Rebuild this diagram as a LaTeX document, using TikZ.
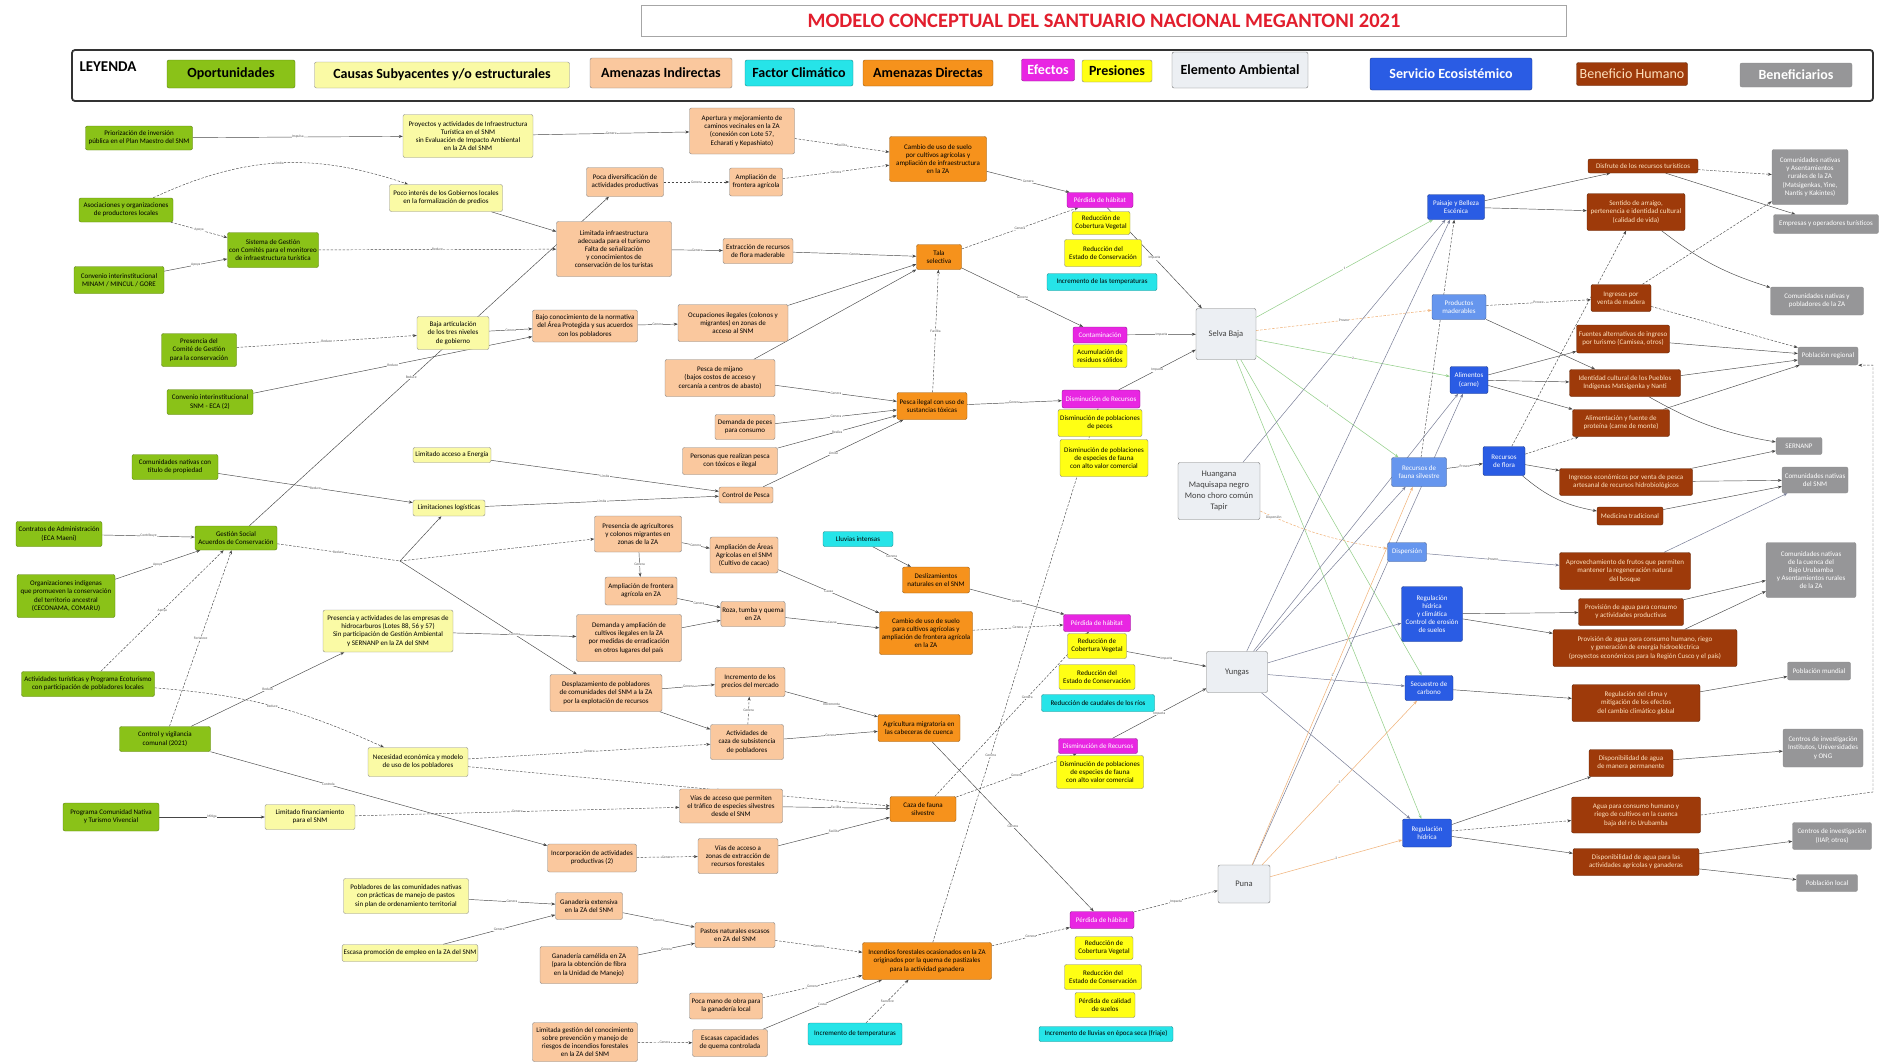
\documentclass[tikz,border=0pt]{standalone}
\usepackage{fontspec}
\setmainfont{Carlito}
\usetikzlibrary{arrows.meta}
\pgfdeclarelayer{background}
\pgfsetlayers{background,main}

\definecolor{opgreen}{RGB}{138,194,24}
\definecolor{causeyel}{RGB}{250,250,165}
\definecolor{indpeach}{RGB}{250,200,158}
\definecolor{climcyan}{RGB}{38,228,232}
\definecolor{dirorange}{RGB}{246,146,28}
\definecolor{effmag}{RGB}{232,38,226}
\definecolor{presyel}{RGB}{255,255,20}
\definecolor{envgray}{RGB}{236,239,243}
\definecolor{servblue}{RGB}{42,92,228}
\definecolor{servlight}{RGB}{102,150,238}
\definecolor{humbrown}{RGB}{158,58,10}
\definecolor{humtext}{RGB}{255,226,190}
\definecolor{benfgray}{RGB}{150,150,152}
\definecolor{titlered}{RGB}{226,30,45}
\definecolor{linegray}{RGB}{70,70,70}
\definecolor{linkgreen}{RGB}{150,208,140}
\definecolor{linkorange}{RGB}{240,180,125}
\definecolor{linkslate}{RGB}{120,125,150}

\begin{document}
\begin{tikzpicture}[x=1pt,y=-1pt,>={Stealth[length=4pt,width=3pt]},
    base node/.style={draw,rounded corners=2pt,align=center,inner sep=1.5pt,font=\fontsize{7}{8.2}\selectfont},
    op node/.style={base node,fill=opgreen,draw=opgreen!65!black},
    cause node/.style={base node,fill=causeyel,draw=black!45},
    ind node/.style={base node,fill=indpeach,draw=black!50},
    clim node/.style={base node,fill=climcyan,draw=climcyan!60!black},
    dir node/.style={base node,fill=dirorange,draw=dirorange!60!black},
    eff node/.style={base node,fill=effmag,draw=effmag!60!black,text=white},
    pres node/.style={base node,fill=presyel,draw=black!50},
    env node/.style={base node,fill=envgray,draw=black!55,text=black!75,font=\fontsize{8.5}{11}\selectfont},
    serv node/.style={base node,fill=servblue,draw=servblue!60!black,text=white},
    serv light/.style={base node,fill=servlight,draw=servlight!60!black,text=white},
    hum node/.style={base node,fill=humbrown,draw=humbrown!60!black,text=humtext},
    benf node/.style={base node,fill=benfgray,draw=black!45,text=white},
    leg node/.style={draw,rounded corners=2pt,font=\fontsize{14}{16}\selectfont\bfseries,inner sep=1pt},
    con/.style={->,line width=0.45pt,color=linegray},
    dcon/.style={con,dash pattern=on 2.5pt off 1.5pt},
    gcon/.style={->,line width=0.55pt,color=linkgreen},
    ocon/.style={->,line width=0.55pt,color=linkorange},
    scon/.style={->,line width=0.5pt,color=linkslate},
    lbl/.style={font=\fontsize{3.6}{4}\selectfont,text=black!65,fill=white,inner sep=0.4pt}]

  \useasboundingbox (0,0) rectangle (1879,1063);

  % titulo y leyenda
  \node[draw=black!35,fill=white,minimum width=925,minimum height=31,
        font=\fontsize{20.5}{24}\selectfont\bfseries,text=titlered] (title) at (1104,21)
        {MODELO CONCEPTUAL DEL SANTUARIO NACIONAL MEGANTONI 2021};
  \node[draw=black!80,line width=1.8pt,rounded corners=3pt,minimum width=1801,minimum height=51] (leyframe) at (972.5,75.5) {};
  \node[anchor=west,font=\fontsize{15}{17}\selectfont\bfseries] (ley) at (76,67) {LEYENDA};
  \node[leg node,fill=opgreen,draw=opgreen!65!black,minimum width=128,minimum height=28] (lop) at (231,74) {Oportunidades};
  \node[leg node,fill=causeyel,draw=black!45,minimum width=255,minimum height=26] (lcau) at (442,75) {Causas Subyacentes y/o estructurales};
  \node[leg node,fill=indpeach,draw=black!50,minimum width=142,minimum height=30] (lind) at (661,73) {Amenazas Indirectas};
  \node[leg node,fill=climcyan,draw=climcyan!60!black,minimum width=108,minimum height=26] (lcli) at (799,73) {Factor Climático};
  \node[leg node,fill=dirorange,draw=dirorange!60!black,minimum width=130,minimum height=26] (ldir) at (928,73) {Amenazas Directas};
  \node[leg node,fill=effmag,draw=effmag!60!black,text=white,minimum width=53,minimum height=22] (leff) at (1048,70) {Efectos};
  \node[leg node,fill=presyel,draw=black!50,minimum width=70,minimum height=22] (lpre) at (1117,71) {Presiones};
  \node[leg node,fill=envgray,draw=black!55,minimum width=136,minimum height=36] (lenv) at (1240,70) {Elemento Ambiental};
  \node[leg node,fill=servblue,draw=servblue!60!black,text=white,minimum width=162,minimum height=32] (lser) at (1451,74) {Servicio Ecosistémico};
  \node[leg node,fill=humbrown,draw=humbrown!60!black,text=humtext,font=\fontsize{14}{16}\selectfont,minimum width=111,minimum height=23] (lben) at (1632,74) {Beneficio Humano};
  \node[leg node,fill=benfgray,draw=black!45,text=white,minimum width=112,minimum height=24] (lbef) at (1796,75) {Beneficiarios};

  % oportunidades
  \node[op node,minimum width=107,minimum height=24] (g1) at (139,138) {Priorización de inversión\\ pública en el Plan Maestro del SNM};
  \node[op node,minimum width=94,minimum height=24] (g2) at (126,210) {Asociaciones y organizaciones\\ de productores locales};
  \node[op node,minimum width=91,minimum height=35] (g3) at (273,250) {Sistema de Gestión\\ con Comités para el monitoreo\\ de infraestructura turística};
  \node[op node,minimum width=90,minimum height=27] (g4) at (119,280) {Convenio interinstitucional\\ MINAM / MINCUL / GORE};
  \node[op node,minimum width=75,minimum height=33] (g5) at (199,350) {Presencia del\\ Comité de Gestión\\ para la conservación};
  \node[op node,minimum width=86,minimum height=25] (g6) at (210,402) {Convenio interinstitucional\\ SNM - ECA (2)};
  \node[op node,minimum width=86,minimum height=25] (g7) at (175,467) {Comunidades nativas con\\ título de propiedad};
  \node[op node,minimum width=86,minimum height=25] (g8) at (59,534) {Contratos de Administración\\ (ECA Maeni)};
  \node[op node,minimum width=82,minimum height=24] (g9) at (236,538) {Gestión Social\\ Acuerdos de Conservación};
  \node[op node,minimum width=98,minimum height=43] (g10) at (66,596) {Organizaciones indígenas\\ que promueven la conservación\\ del territorio ancestral\\ (CECONAMA, COMARU)};
  \node[op node,minimum width=133,minimum height=25] (g11) at (88,684) {Actividades turísticas y Programa Ecoturismo\\ con participación de pobladores locales};
  \node[op node,minimum width=91,minimum height=25] (g12) at (165,739) {Control y vigilancia\\ comunal (2021)};
  \node[op node,minimum width=96,minimum height=28] (g13) at (111,817) {Programa Comunidad Nativa\\ y Turismo Vivencial};

  % causas subyacentes
  \node[cause node,minimum width=130,minimum height=43] (y1) at (468,136) {Proyectos y actividades de Infraestructura\\ Turística en el SNM\\ sin Evaluación de Impacto Ambiental\\ en la ZA del SNM};
  \node[cause node,minimum width=113,minimum height=27] (y2) at (446,198) {Poco interés de los Gobiernos locales\\ en la formalización de predios};
  \node[cause node,minimum width=72,minimum height=33] (y3) at (453,333) {Baja articulación\\ de los tres niveles\\ de gobierno};
  \node[cause node,minimum width=78,minimum height=15] (y4) at (452,455) {Limitado acceso a Energía};
  \node[cause node,minimum width=72,minimum height=16] (y5) at (449,508) {Limitaciones logísticas};
  \node[cause node,minimum width=130,minimum height=42] (y6) at (388,631) {Presencia y actividades de las empresas de\\ hidrocarburos (Lotes 88, 56 y 57)\\ Sin participación de Gestión Ambiental\\ y SERNANP en la ZA del SNM};
  \node[cause node,minimum width=100,minimum height=29] (y7) at (418,762) {Necesidad económica y modelo\\ de uso de los pobladores};
  \node[cause node,minimum width=90,minimum height=25] (y8) at (310,817) {Limitado financiamiento\\ para el SNM};
  \node[cause node,minimum width=125,minimum height=35] (y9) at (406,896) {Pobladores de las comunidades nativas\\ con prácticas de manejo de pastos\\ sin plan de ordenamiento territorial};
  \node[cause node,minimum width=134,minimum height=17] (y10) at (410,953) {Escasa promoción de empleo en la ZA del SNM};

  % amenazas indirectas
  \node[ind node,minimum width=105,minimum height=46] (a1) at (742,131) {Apertura y mejoramiento de\\ caminos vecinales en la ZA\\ (conexión con Lote 57,\\ Echarati y Kepashiato)};
  \node[ind node,minimum width=77,minimum height=29] (a2) at (625,182) {Poca diversificación de\\ actividades productivas};
  \node[ind node,minimum width=53,minimum height=28] (a3) at (756,182) {Ampliación de\\ frontera agrícola};
  \node[ind node,minimum width=115,minimum height=55] (a4) at (614,249) {Limitada infraestructura\\ adecuada para el turismo\\ Falta de señalización\\ y conocimientos de\\ conservación de los turistas};
  \node[ind node,minimum width=70,minimum height=25] (a5) at (758,251) {Extracción de recursos\\ de flora maderable};
  \node[ind node,minimum width=105,minimum height=32] (a6) at (585,326) {Bajo conocimiento de la normativa\\ del Área Protegida y sus acuerdos\\ con los pobladores};
  \node[ind node,minimum width=110,minimum height=37] (a7) at (733,323) {Ocupaciones ilegales (colonos y\\ migrantes) en zonas de\\ acceso al SNM};
  \node[ind node,minimum width=110,minimum height=37] (a8) at (720,378) {Pesca de mijano\\ (bajos costos de acceso y\\ cercanía a centros de abasto)};
  \node[ind node,minimum width=60,minimum height=25] (a9) at (745,427) {Demanda de peces\\ para consumo};
  \node[ind node,minimum width=95,minimum height=27] (a10) at (730,461) {Personas que realizan pesca\\ con tóxicos e ilegal};
  \node[ind node,minimum width=54,minimum height=16] (a11) at (746,495) {Control de Pesca};
  \node[ind node,minimum width=87,minimum height=36] (a12) at (638,534) {Presencia de agricultores\\ y colonos migrantes en\\ zonas de la ZA};
  \node[ind node,minimum width=68,minimum height=36] (a13) at (744,555) {Ampliación de Áreas\\ Agrícolas en el SNM\\ (Cultivo de cacao)};
  \node[ind node,minimum width=72,minimum height=28] (a14) at (641,591) {Ampliación de frontera\\ agrícola en ZA};
  \node[ind node,minimum width=60,minimum height=25] (a15) at (753,614) {Roza, tumba y quema\\ en ZA};
  \node[ind node,minimum width=105,minimum height=47] (a16) at (629,638) {Demanda y ampliación de\\ cultivos ilegales en la ZA\\ por medidas de erradicación\\ en otros lugares del país};
  \node[ind node,minimum width=112,minimum height=37] (a17) at (606,693) {Desplazamiento de pobladores\\ de comunidades del SNM a la ZA\\ por la explotación de recursos};
  \node[ind node,minimum width=70,minimum height=29] (a18) at (750,682) {Incremento de los\\ precios del mercado};
  \node[ind node,minimum width=73,minimum height=35] (a19) at (747,742) {Actividades de\\ caza de subsistencia\\ de pobladores};
  \node[ind node,minimum width=103,minimum height=34] (a20) at (731,806) {Vías de acceso que permiten\\ el tráfico de especies silvestres\\ desde el SNM};
  \node[ind node,minimum width=89,minimum height=28] (a21) at (592,858) {Incorporación de actividades\\ productivas (2)};
  \node[ind node,minimum width=80,minimum height=35] (a22) at (738,856) {Vías de acceso a\\ zonas de extracción de\\ recursos forestales};
  \node[ind node,minimum width=67,minimum height=27] (a23) at (589,906) {Ganadería extensiva\\ en la ZA del SNM};
  \node[ind node,minimum width=80,minimum height=25] (a24) at (735,935) {Pastos naturales escasos\\ en ZA del SNM};
  \node[ind node,minimum width=98,minimum height=37] (a25) at (589,965) {Ganadería camélida en ZA\\ (para la obtención de fibra\\ en la Unidad de Manejo)};
  \node[ind node,minimum width=73,minimum height=26] (a26) at (726,1006) {Poca mano de obra para\\ la ganadería local};
  \node[ind node,minimum width=105,minimum height=39] (a27) at (585,1042) {Limitada gestión del conocimiento\\ sobre prevención y manejo de\\ riesgos de incendios forestales\\ en la ZA del SNM};
  \node[ind node,minimum width=75,minimum height=27] (a28) at (730,1043) {Escasas capacidades\\ de quema controlada};

  % amenazas directas
  \node[dir node,minimum width=97,minimum height=45] (d1) at (938,159) {Cambio de uso de suelo\\ por cultivos agrícolas y\\ ampliación de infraestructura\\ en la ZA};
  \node[dir node,minimum width=45,minimum height=25] (d2) at (939,257) {Tala\\ selectiva};
  \node[dir node,minimum width=70,minimum height=27] (d3) at (932,406) {Pesca ilegal con uso de\\ sustancias tóxicas};
  \node[dir node,minimum width=67,minimum height=26] (d4) at (936,580) {Deslizamientos\\ naturales en el SNM};
  \node[dir node,minimum width=93,minimum height=43] (d5) at (926,633) {Cambio de uso de suelo\\ para cultivos agrícolas y\\ ampliación de frontera agrícola\\ en la ZA};
  \node[dir node,minimum width=82,minimum height=27] (d6) at (919,728) {Agricultura migratoria en\\ las cabeceras de cuenca};
  \node[dir node,minimum width=66,minimum height=25] (d7) at (923,809) {Caza de fauna\\ silvestre};
  \node[dir node,minimum width=129,minimum height=37] (d8) at (927,961) {Incendios forestales ocasionados en la ZA\\ originados por la quema de pastizales\\ para la actividad ganadera};

  % factores climaticos
  \node[clim node,minimum width=70,minimum height=15] (c2) at (858,539) {Lluvias intensas};
  \node[clim node,minimum width=94,minimum height=22] (c3) at (855,1034) {Incremento de temperaturas};

  % efectos y presiones
  \node[eff node,minimum width=66,minimum height=15] (e1) at (1100,200) {Pérdida de hábitat};
  \node[pres node,minimum width=58,minimum height=23] (p1a) at (1101,223) {Reducción de\\ Cobertura Vegetal};
  \node[pres node,minimum width=77,minimum height=27] (p1b) at (1103,253) {Reducción del\\ Estado de Conservación};
  \node[clim node,minimum width=110,minimum height=17] (c1) at (1102,282) {Incremento de las temperaturas};
  \node[eff node,minimum width=54,minimum height=16] (e2) at (1100,335) {Contaminación};
  \node[pres node,minimum width=54,minimum height=23] (p2a) at (1100,356) {Acumulación de\\ residuos sólidos};
  \node[eff node,minimum width=78,minimum height=18] (e3) at (1101,399) {Disminución de Recursos};
  \node[pres node,minimum width=84,minimum height=27] (p3a) at (1100,423) {Disminución de poblaciones\\ de peces};
  \node[pres node,minimum width=88,minimum height=37] (p3b) at (1104,458) {Disminución de poblaciones\\ de especies de fauna\\ con alto valor comercial};
  \node[eff node,minimum width=67,minimum height=17] (e4) at (1097,623) {Pérdida de hábitat};
  \node[pres node,minimum width=59,minimum height=25] (p4a) at (1097,646) {Reducción de\\ Cobertura Vegetal};
  \node[pres node,minimum width=76,minimum height=25] (p4b) at (1097,677) {Reducción del\\ Estado de Conservación};
  \node[clim node,minimum width=113,minimum height=17] (c4) at (1098,703) {Reducción de caudales de los ríos};
  \node[eff node,minimum width=79,minimum height=15] (e5) at (1098,746) {Disminución de Recursos};
  \node[pres node,minimum width=87,minimum height=33] (p5a) at (1100,772) {Disminución de poblaciones\\ de especies de fauna\\ con alto valor comercial};
  \node[eff node,minimum width=64,minimum height=17] (e6) at (1102,920) {Pérdida de hábitat};
  \node[pres node,minimum width=58,minimum height=23] (p6a) at (1104,948) {Reducción de\\ Cobertura Vegetal};
  \node[pres node,minimum width=77,minimum height=25] (p6b) at (1103,977) {Reducción del\\ Estado de Conservación};
  \node[pres node,minimum width=60,minimum height=25] (p6c) at (1105,1005) {Pérdida de calidad\\ de suelos};
  \node[clim node,minimum width=134,minimum height=15] (c6) at (1106,1034) {Incremento de lluvias en época seca (friaje)};

  % elementos ambientales
  \node[env node,minimum width=60,minimum height=51] (m1) at (1226,334) {Selva Baja};
  \node[env node,minimum width=82,minimum height=57] (m2) at (1219,491) {Huangana\\ Maquisapa negro\\ Mono choro común\\ Tapir};
  \node[env node,minimum width=61,minimum height=41] (m3) at (1237,672) {Yungas};
  \node[env node,minimum width=52,minimum height=38] (m4) at (1244,884) {Puna};

  % servicios ecosistemicos
  \node[serv node,minimum width=57,minimum height=25] (s1) at (1456,207) {Paisaje y Belleza\\ Escénica};
  \node[serv light,minimum width=54,minimum height=25] (s2) at (1459,307) {Productos\\ maderables};
  \node[serv node,minimum width=38,minimum height=27] (s3) at (1469,380) {Alimentos\\ (carne)};
  \node[serv light,minimum width=55,minimum height=29] (s4) at (1419,472) {Recursos de\\ fauna silvestre};
  \node[serv node,minimum width=42,minimum height=29] (s5) at (1504,461) {Recursos\\ de flora};
  \node[serv light,minimum width=39,minimum height=19] (s6) at (1407,552) {Dispersión};
  \node[serv node,minimum width=61,minimum height=55] (s7) at (1432,614) {Regulación\\ hídrica\\ y climática\\ Control de erosión\\ de suelos};
  \node[serv node,minimum width=48,minimum height=25] (s8) at (1429,688) {Secuestro de\\ carbono};
  \node[serv node,minimum width=49,minimum height=28] (s9) at (1427,833) {Regulación\\ hídrica};

  % beneficios humanos
  \node[hum node,minimum width=110,minimum height=14] (b1) at (1643,166) {Disfrute de los recursos turísticos};
  \node[hum node,minimum width=98,minimum height=37] (b2) at (1636,212) {Sentido de arraigo,\\ pertenencia e identidad cultural\\ (calidad de vida)};
  \node[hum node,minimum width=60,minimum height=27] (b3) at (1621,298) {Ingresos por\\ venta de madera};
  \node[hum node,minimum width=93,minimum height=28] (b4) at (1623,339) {Fuentes alternativas de ingreso\\ por turismo (Camisea, otros)};
  \node[hum node,minimum width=111,minimum height=27] (b5) at (1625,383) {Identidad cultural de los Pueblos\\ Indígenas Matsigenka y Nanti};
  \node[hum node,minimum width=97,minimum height=27] (b6) at (1621,423) {Alimentación y fuente de\\ proteína (carne de monte)};
  \node[hum node,minimum width=133,minimum height=27] (b7) at (1626,482) {Ingresos económicos por venta de pesca\\ artesanal de recursos hidrobiológicos};
  \node[hum node,minimum width=66,minimum height=18] (b8) at (1630,516) {Medicina tradicional};
  \node[hum node,minimum width=131,minimum height=37] (b9) at (1625,571) {Aprovechamiento de frutos que permiten\\ mantener la regeneración natural\\ del bosque};
  \node[hum node,minimum width=105,minimum height=27] (b10) at (1631,612) {Provisión de agua para consumo\\ y actividades productivas};
  \node[hum node,minimum width=184,minimum height=37] (b11) at (1645,648) {Provisión de agua para consumo humano, riego\\ y generación de energía hidroeléctrica\\ (proyectos económicos para la Región Cusco y el país)};
  \node[hum node,minimum width=128,minimum height=37] (b12) at (1636,703) {Regulación del clima y\\ mitigación de los efectos\\ del cambio climático global};
  \node[hum node,minimum width=84,minimum height=27] (b13) at (1631,763) {Disponibilidad de agua\\ de manera permanente};
  \node[hum node,minimum width=129,minimum height=36] (b14) at (1636,815) {Agua para consumo humano y\\ riego de cultivos en la cuenca\\ baja del río Urubamba};
  \node[hum node,minimum width=126,minimum height=27] (b15) at (1636,862) {Disponibilidad de agua para las\\ actividades agrícolas y ganaderas};

  % beneficiarios
  \node[benf node,minimum width=76,minimum height=55] (r1) at (1810,177) {Comunidades nativas\\ y Asentamientos\\ rurales de la ZA\\ (Matsigenkas, Yine,\\ Nantis y Kakintes)};
  \node[benf node,minimum width=105,minimum height=19] (r2) at (1826,224) {Empresas y operadores turísticos};
  \node[benf node,minimum width=93,minimum height=28] (r3) at (1817,301) {Comunidades nativas y\\ pobladores de la ZA};
  \node[benf node,minimum width=60,minimum height=18] (r4) at (1828,356) {Población regional};
  \node[benf node,minimum width=46,minimum height=17] (r5) at (1799,446) {SERNANP};
  \node[benf node,minimum width=66,minimum height=26] (r6) at (1815,480) {Comunidades nativas\\ del SNM};
  \node[benf node,minimum width=90,minimum height=55] (r7) at (1811,570) {Comunidades nativas\\ de la cuenca del\\ Bajo Urubamba\\ y Asentamientos rurales\\ de la ZA};
  \node[benf node,minimum width=63,minimum height=18] (r8) at (1819,671) {Población mundial};
  \node[benf node,minimum width=80,minimum height=38] (r9) at (1823,748) {Centros de investigación\\ Institutos, Universidades\\ y ONG};
  \node[benf node,minimum width=79,minimum height=27] (r10) at (1832,836) {Centros de investigación\\ (IIAP, otros)};
  \node[benf node,minimum width=61,minimum height=17] (r11) at (1827,883) {Población local};

  \coordinate (gs) at (400,561);
  \coordinate (rbend) at (1873,792);

  \begin{pgfonlayer}{background}
    % oportunidades y causas
    \path[con] (g1) edge node[lbl] {Impulsa} (y1);
    \path[dcon] (g2) edge[bend left=22] node[lbl] {Limita} (y2);
    \path[dcon] (g2) edge node[lbl] {Apoya} (g3);
    \path[con] (g4) edge node[lbl] {Apoya} (g3);
    \path[dcon] (g3) edge node[lbl] {Reduce} (a4);
    \path[con] (y2) edge (a4);
    \path[con] (g9) edge node[lbl,pos=.45] {Reduce} (a2);
    \path[con] (y1) edge node[lbl] {Genera} (a1);
    \path[dcon] (a2) edge node[lbl] {Genera} (a3);
    \path[dcon] (a3) edge node[lbl] {Genera} (d1);
    \path[dcon] (a1) edge node[lbl] {Facilita} (d1);
    \path[con] (a4) edge node[lbl] {Genera} (a5);
    \path[con] (a5) edge node[lbl] {Genera} (d2);
    \path[dcon] (g5) edge node[lbl] {Reduce} (y3);
    \path[con] (y3) edge node[lbl] {Genera} (a6);
    \path[con] (g6) edge node[lbl] {Reduce} (a6);
    \path[con] (a6) edge node[lbl] {Genera} (a7);
    \path[con] (a7) edge (d2);
    \path[con] (a8) edge (d2);
    \path[dcon] (d3) edge node[lbl] {Facilita} (d2);
    \path[con] (a8) edge node[lbl] {Genera} (d3);
    \path[con] (a9) edge node[lbl] {Genera} (d3);
    \path[con] (a10) edge node[lbl] {Realiza} (d3);
    \path[con] (a11) edge node[lbl] {Limita} (d3);
    \path[con] (g7) edge node[lbl] {Reduce} (y5);
    \path[con] (y4) edge node[lbl] {Limita} (a11);
    \path[con] (y5) edge node[lbl] {Limita} (a11);
    \path[con] (g8) edge node[lbl] {Contribuye} (g9);
    \path[con] (g10) edge node[lbl] {Apoya} (g9);
    \path[dcon] (g11) edge node[lbl] {Apoya} (g9);
    \path[dcon] (g12) edge node[lbl] {Fortalece} (g9);
    \draw[dcon,-] (g9) -- node[lbl] {Reduce} (gs);
    \path[con] (gs) edge (y5);
    \path[dcon] (gs) edge (a12);
    \path[con] (gs) edge (a17);
    \path[con] (g12) edge node[lbl] {Reduce} (y6);
    \path[con] (y6) edge node[lbl] {Genera} (a16);
    \path[dcon] (g11) edge[bend left=10] node[lbl] {Reduce} (y7);
    \path[con] (g12) edge node[lbl,pos=.35] {Controla} (a21);
    \path[con] (g13) edge node[lbl] {Mitiga} (y8);
    \path[dcon] (y8) edge node[lbl] {Genera} (a20);
    \path[dcon] (y7) edge node[lbl] {Genera} (a19);
    \path[dcon] (y7) edge node[lbl,pos=.6] {Causa} (d7);
    \path[dcon] (a21) edge node[lbl] {Genera} (a22);
    \path[con] (y9) edge node[lbl] {Genera} (a23);
    \path[con] (y10) edge node[lbl] {Genera} (a23);
    \path[con] (a23) edge node[lbl] {Genera} (a24);
    \path[con] (a25) edge node[lbl] {Genera} (a24);
    \path[dcon] (a27) edge node[lbl] {Genera} (a28);
    \path[dcon] (a24) edge node[lbl] {Genera} (d8);
    \path[dcon] (a26) edge node[lbl] {Genera} (d8);
    \path[con] (a28) edge node[lbl] {Causa} (d8);
    \path[dcon] (c3) edge node[lbl] {Favorece} (d8);
    \path[con] (a22) edge node[lbl] {Facilita} (d7);
    \path[con] (a20) edge node[lbl] {Facilita} (d7);
    \path[con] (a19) edge node[lbl] {Genera} (d6);
    \path[con] (a17) edge (a19);
    \path[dcon] (a19) edge node[lbl] {Genera} (a18);
    \path[con] (a18) edge node[lbl] {Incrementa} (d6);
    \path[con] (a17) edge node[lbl] {Genera} (a18);
    \path[con] (a12) edge node[lbl] {Genera} (a13);
    \path[con] (a12) edge node[lbl] {Genera} (a14);
    \path[con] (a14) edge node[lbl] {Genera} (a15);
    \path[con] (a16) edge (a15);
    \path[con] (a13) edge node[lbl] {Causa} (d5);
    \path[con] (a15) edge node[lbl] {Causa} (d5);
    \path[con] (c2) edge node[lbl] {Genera} (d4);
    % amenazas directas y efectos
    \path[con] (d4) edge node[lbl] {Genera} (e4);
    \path[dcon] (d5) edge node[lbl] {Genera} (e4);
    \path[con] (d1) edge node[lbl] {Genera} (e1);
    \path[dcon] (d2) edge node[lbl] {Genera} (e1);
    \path[con] (d2) edge node[lbl] {Genera} (e2);
    \path[con] (d3) edge node[lbl] {Genera} (e3);
    \path[dcon] (d8) edge node[lbl,pos=.35] {Genera} (e3);
    \path[con] (d6) edge node[lbl] {Genera} (e6);
    \path[dcon] (d7) edge node[lbl] {Genera} (e5);
    \path[dcon] (d7) edge node[lbl,pos=.6] {Genera} (e4);
    \path[dcon] (d8) edge node[lbl] {Genera} (e6);
    \path[con] (e1) edge node[lbl] {Impacta} (m1);
    \path[con] (e2) edge node[lbl] {Impacta} (m1);
    \path[con] (e3) edge node[lbl] {Impacta} (m1);
    \path[con] (p4a) edge node[lbl] {Impacta} (m3);
    \path[con] (e5) edge node[lbl] {Impacta} (m3);
    \path[dcon] (e6) edge node[lbl] {Impacta} (m4);
    % elementos y servicios
    \path[gcon] (m1) edge node[lbl] {1} (s1);
    \path[gcon] (m1) edge node[lbl] {2} (s3);
    \path[gcon] (m1) edge node[lbl] {1} (s4);
    \path[gcon] (m1) edge (s8);
    \path[gcon] (m1) edge (s9);
    \path[ocon,dash pattern=on 2.5pt off 1.5pt] (m1) edge node[lbl] {Provee} (s2);
    \path[scon] (m2) edge (s1);
    \path[ocon,dash pattern=on 2.5pt off 1.5pt] (m2) edge[bend right=8] node[lbl,pos=.1] {Dispersión} (s6);
    \path[scon] (m3) edge (s1);
    \path[scon] (m3) edge (s3);
    \path[scon] (m3) edge (s4);
    \path[scon] (m3) edge (s7);
    \path[scon] (m3) edge (s8);
    \path[scon] (m3) edge (s9);
    \path[scon] (m4) edge (s3);
    \path[ocon] (m4) edge node[lbl] {2} (s4);
    \path[ocon] (m4) edge node[lbl] {3} (s8);
    \path[ocon] (m4) edge node[lbl] {2} (s9);
    \path[con] (s4) edge node[lbl] {Provee} (s5);
    \path[dcon] (s4) edge (s1);
    % servicios y beneficios
    \path[con] (s1) edge (b1);
    \path[con] (s1) edge (b2);
    \path[dcon] (s2) edge node[lbl] {Provee} (b3);
    \path[con] (s2) edge (b5);
    \path[con] (s3) edge (b4);
    \path[con] (s3) edge (b5);
    \path[con] (s3) edge (b6);
    \path[dcon] (s5) edge (b6);
    \path[con] (s5) edge (b7);
    \path[con] (s5) edge[bend right=15] (b8);
    \path[dcon] (s5) edge (b2);
    \path[scon] (s6) edge node[lbl] {Provee} (b9);
    \path[con] (s7) edge (b10);
    \path[con] (s7) edge (b11);
    \path[con] (s8) edge (b12);
    \path[con] (s9) edge (b13);
    \path[dcon] (s9) edge (b14);
    \path[con] (s9) edge (b15);
    % beneficios y beneficiarios
    \path[dcon] (b1) edge (r1);
    \path[con] (b1) edge (r2);
    \path[con] (b2) edge[bend right=10] (r3);
    \path[dcon] (b3) edge (r1);
    \path[dcon] (b3) edge (r4);
    \path[con] (b4) edge (r4);
    \path[con] (b5) edge (r4);
    \path[con] (b6) edge (r4);
    \path[con] (b5) edge[bend right=10] (r5);
    \path[con] (b7) edge (r5);
    \path[con] (b7) edge (r6);
    \path[con] (b8) edge (r6);
    \path[scon] (b9) edge (r6);
    \path[con] (b10) edge (r7);
    \path[con] (b11) edge (r7);
    \path[con] (b12) edge (r8);
    \path[con] (b13) edge (r9);
    \draw[dcon] (b14.east) -- (rbend) -- (rbend |- r4.south east) -- (r4.south east);
    \path[con] (b15) edge (r10);
    \path[con] (b15) edge (r11);
  \end{pgfonlayer}
\end{tikzpicture}
\end{document}
